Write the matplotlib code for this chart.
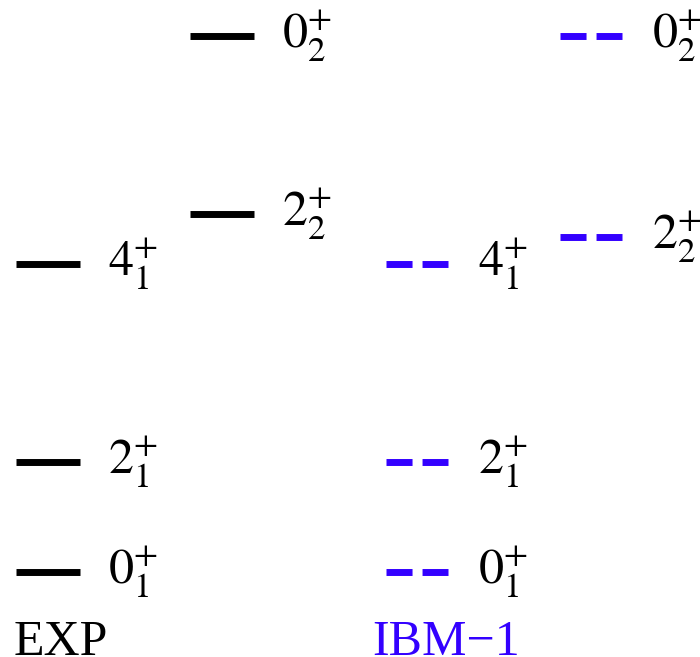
import matplotlib.pyplot as plt

plt.rcParams['font.family'] = 'Liberation Serif'
plt.rcParams['mathtext.fontset'] = 'stix'

# level energies (MeV)
exp_labels = ['0_1', '2_1', '4_1', '2_2', '0_2']
exp_E = [0.0, 0.55, 1.54, 1.79, 2.68]
ibm_labels = ['0_1', '2_1', '4_1', '2_2', '0_2']
ibm_E = [0.0, 0.55, 1.54, 1.675, 2.68]

# ground band in first column, 2_2 and 0_2 shifted right
exp_col = [0, 0, 0, 1, 1]
ibm_col = [0, 0, 0, 1, 1]

blue = '#3300ff'

fig = plt.figure(figsize=(7, 6.57), dpi=100)
ax = fig.add_axes([0, 0, 1, 1])
ax.set_xlim(0, 700)
ax.set_ylim(-0.425, 2.86)
ax.axis('off')

def draw(labels, E, cols, x0, ls, color):
    for lab, e, c in zip(labels, E, cols):
        xs = x0 + c * 174
        if ls == 'dash':
            ax.plot([xs, xs + 62], [e, e], color=color, lw=5,
                    dashes=(3.75, 1.44), solid_capstyle='butt')
        else:
            ax.plot([xs, xs + 64], [e, e], color=color, lw=5,
                    solid_capstyle='butt')
        spin, idx = lab.split('_')
        ax.text(xs + 92, e, r'$%s^{+}_{%s}$' % (spin, idx), fontsize=36,
                va='center', ha='left', color='black')

draw(exp_labels, exp_E, exp_col, 16, 'solid', 'black')
draw(ibm_labels, ibm_E, ibm_col, 386, 'dash', blue)

ax.text(14, -0.415, 'EXP', fontsize=36, color='black', va='baseline')
ax.text(372, -0.415, 'IBM\u22121', fontsize=36, color=blue, va='baseline')

fig.savefig('out.png', dpi=100)
